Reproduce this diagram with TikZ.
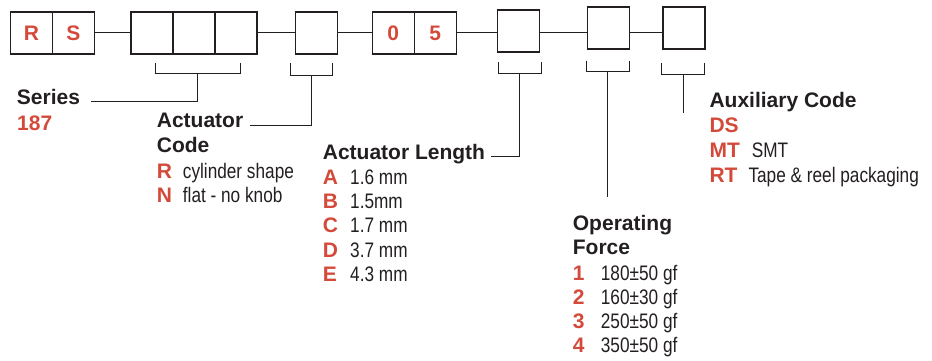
\documentclass[tikz,border=0pt]{standalone}
\usepackage{fontspec}
\setmainfont{Liberation Sans}
\newfontfamily\narrowfont[FakeStretch=0.82]{Liberation Sans}
\usetikzlibrary{positioning}

\definecolor{codered}{RGB}{212,74,58}
\definecolor{ink}{RGB}{35,31,32}

\tikzset{
    cell/.style = {draw=ink, line width=1.1pt, minimum width=42pt, minimum height=42pt,
                   inner sep=0pt, outer sep=0pt, text=codered, font=\fontsize{21}{24}\selectfont\bfseries},
    lead/.style = {draw=ink, line width=1pt},
    head/.style = {anchor=base west, inner sep=0pt, text=ink, font=\fontsize{21}{24}\selectfont\bfseries},
    key/.style  = {anchor=base west, inner sep=0pt, text=codered, font=\fontsize{21}{24}\selectfont\bfseries},
    val/.style  = {anchor=base west, inner sep=0pt, text=ink, font=\fontsize{21}{24}\narrowfont},
}

\begin{document}
\begin{tikzpicture}[x=1pt, y=-1pt]
    \useasboundingbox (0,0) rectangle (932,361);

    % part number boxes
    \node[cell] (r) at (31.5, 33) {R};
    \node[cell, right=0pt of r] (s) {S};

    \node[cell] (ser1) at (152, 33) {};
    \node[cell, right=0pt of ser1] (ser2) {};
    \node[cell, right=0pt of ser2] (ser3) {};

    \node[cell] (code) at (316.5, 33) {};

    \node[cell] (fix0) at (393.3, 33) {0};
    \node[cell, right=0pt of fix0] (fix5) {5};

    \node[cell] (length) at (518.6, 31) {};
    \node[cell] (force) at (608.3, 28) {};
    \node[cell] (aux) at (684, 28) {};

    \draw[lead] (s.east) -- (ser1.west);
    \draw[lead] (ser3.east) -- (code.west);
    \draw[lead] (code.east) -- (fix0.west);
    \draw[lead] (fix5.east) -- (fix5.east -| length.west);
    \draw[lead] (length.east |- fix5.east) -- (fix5.east -| force.west);
    \draw[lead] (force.east |- fix5.east) -- (fix5.east -| aux.west);

    % brackets
    \draw[lead] (155, 63) -- (155, 74) -- coordinate (b1) (240, 74) -- (240, 63);
    \draw[lead] (290, 63) -- (290, 75.5) -- coordinate (b2) (332.7, 75.5) -- (332.7, 63);
    \draw[lead] (498.3, 62) -- (498.3, 73.7) -- coordinate (b3) (541, 73.7) -- (541, 62);
    \draw[lead] (586.7, 60.7) -- (586.7, 72) -- coordinate (b4) (629, 72) -- (629, 60.7);
    \draw[lead] (661.7, 63.3) -- (661.7, 75) -- coordinate (b5) (704.3, 75) -- (704.3, 63.3);

    % series
    \node[head] (series) at (16.7, 104.5) {Series};
    \node[key] (series187) at (17, 130) {187};
    \draw[lead] (b1) |- ([xshift=11pt]series.mid east);

    % actuator code
    \node[head] (acttitle) at (156.7, 127.7) {Actuator};
    \node[head] (actcode) at (156.7, 152.7) {Code};
    \foreach \k/\v [count=\i from 0] in {R/cylinder shape, N/flat - no knob} {
        \node[key] (actk\k) at (156.7, 178 + 24.7*\i) {\k};
        \node[val] (actv\k) at (182.7, 178 + 24.7*\i) {\v};
    }
    \draw[lead] (b2) |- ([xshift=7pt]acttitle.mid east);

    % actuator length
    \node[head] (lentitle) at (322.7, 159.3) {Actuator Length};
    \foreach \k/\v [count=\i from 0] in {A/1.6 mm, B/1.5mm, C/1.7 mm, D/3.7 mm, E/4.3 mm} {
        \node[key] (lenk\k) at (322.7, 184 + 24.4*\i) {\k};
        \node[val] (lenv\k) at (350, 184 + 24.4*\i) {\v};
    }
    \draw[lead] (b3) |- ([xshift=6pt]lentitle.mid east);

    % operating force
    \node[head] (optitle) at (572.7, 230) {Operating};
    \node[head] (opforce) at (572.7, 254.3) {Force};
    \foreach \k/\v [count=\i from 0] in {1/180±50 gf, 2/160±30 gf, 3/250±50 gf, 4/350±50 gf} {
        \node[key] (opk\k) at (572.7, 280 + 24.3*\i) {\k};
        \node[val] (opv\k) at (600.7, 280 + 24.3*\i) {\v};
    }
    \draw[lead] (b4) -- ++(0, 125);

    % auxiliary code
    \node[head] (auxtitle) at (709.3, 107.3) {Auxiliary Code};
    \node[key] (auxds) at (709.3, 132.3) {DS};
    \node[key] (auxmt) at (709.3, 157.3) {MT};
    \node[val] (auxsmt) at (751.7, 157.3) {SMT};
    \node[key] (auxrt) at (709.3, 182.3) {RT};
    \node[val] (auxtape) at (748.3, 182.3) {Tape \& reel packaging};
    \draw[lead] (b5) -- ++(0, 38.3);
\end{tikzpicture}
\end{document}
